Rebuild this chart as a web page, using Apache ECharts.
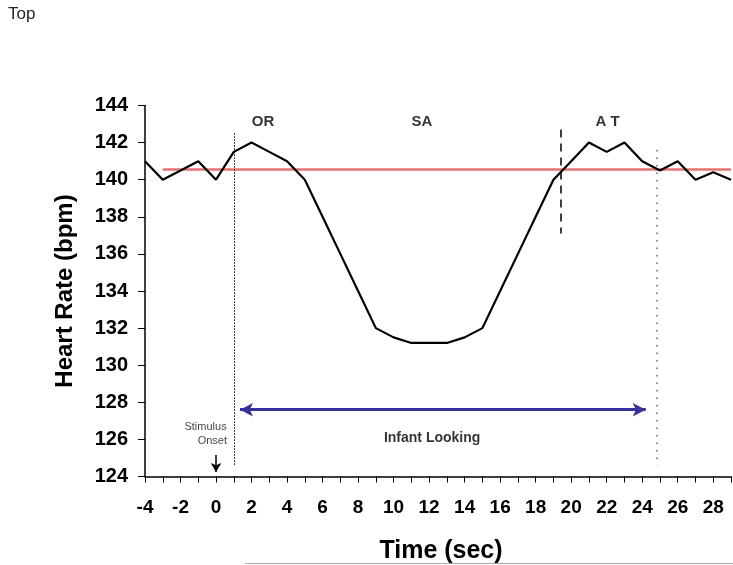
<!DOCTYPE html>
<html>
<head>
<meta charset="utf-8">
<script src="https://cdn.jsdelivr.net/npm/echarts@6/dist/echarts.min.js"></script>
<style>html,body{margin:0;padding:0;background:#fff;}#c{width:733px;height:565px;}</style>
</head>
<body>
<div id="c"></div>
<script>
// ---- data ----
const times = [-4,-3,-2,-1,0,1,2,3,4,5,6,7,8,9,10,11,12,13,14,15,16,17,18,19,20,21,22,23,24,25,26,27,28,29];
const heartRate = [141,140,140.5,141,140,141.5,142,141.5,141,140,138,136,134,132,131.5,131.2,131.2,131.2,131.5,132,134,136,138,140,141,142,141.5,142,141,140.5,141,140,140.4,140];
const baselineHR = 140.55;
const baselineRange = [-3, 29];
const phaseLabels = ['OR', 'SA', 'A T'];
const phaseLabelX = [2.65, 11.6, 22.05];
const phaseLabelY = 143.1;
const onsetLineX = 1;      // dotted
const atLineX = 19.4;      // dashed
const lookEndX = 24.8;     // dotted
const lookingRange = [1.35, 24.2];
const lookingY = 127.6;
const lookingText = 'Infant Looking';
const lookingTextPos = [12.17, 126.07];
const stimulusText = ['Stimulus', 'Onset'];
const stimulusTextX = [-0.59, -0.21];
const stimulusTextY = [126.68, 125.9];
const stimulusArrow = [0, 125.16, 124.24];
const yTicks = {min: 124, max: 144, interval: 2};
const xTicks = {min: -4, max: 29, interval: 1};

const FONT = "'Liberation Sans', Arial, sans-serif";
const chart = echarts.init(document.getElementById('c'), null, {renderer: 'canvas'});

const lineData = times.map((t, i) => [t, heartRate[i]]);

const annotations = [];
phaseLabels.forEach((t, i) => annotations.push({
  value: [phaseLabelX[i], phaseLabelY], name: t,
  label: {fontSize: 15, fontWeight: 'bold', color: '#000'}
}));
annotations.push({value: lookingTextPos, name: lookingText,
  label: {fontSize: 14, fontWeight: 'bold', color: '#000'}});
stimulusText.forEach((t, i) => annotations.push({
  value: [stimulusTextX[i], stimulusTextY[i]], name: t,
  label: {fontSize: 11, fontWeight: 'normal', color: '#111'}
}));

const option = {
  animation: false,
  backgroundColor: '#fff',
  title: {
    text: 'Top', left: 3, top: 1,
    textStyle: {fontFamily: FONT, fontSize: 17, fontWeight: 'normal', color: '#222'}
  },
  grid: {left: 145, right: 2, top: 105.5, bottom: 88.5, containLabel: false, outerBoundsMode: 'none'},
  xAxis: {
    type: 'value', min: xTicks.min, max: xTicks.max, interval: xTicks.interval,
    name: 'Time (sec)', nameLocation: 'middle', nameGap: 62,
    nameTextStyle: {fontFamily: FONT, fontSize: 25, fontWeight: 'bold', color: '#000', padding: [0, 0, 0, 6]},
    axisLine: {show: true, onZero: false, lineStyle: {color: '#000', width: 1.5}},
    axisTick: {show: true, length: 6, lineStyle: {color: '#000', width: 1}},
    axisLabel: {
      margin: 22, fontFamily: FONT, fontSize: 19, fontWeight: 'bold', color: '#000',
      formatter: v => (v % 2 === 0 ? String(v) : '')
    },
    splitLine: {show: false}
  },
  yAxis: {
    type: 'value', min: yTicks.min, max: yTicks.max, interval: yTicks.interval,
    name: 'Heart Rate (bpm)', nameLocation: 'middle', nameGap: 68, nameRotate: 90,
    nameTextStyle: {fontFamily: FONT, fontSize: 24, fontWeight: 'bold', color: '#000'},
    axisLine: {show: true, onZero: false, lineStyle: {color: '#000', width: 1.5}},
    axisTick: {show: true, length: 7, lineStyle: {color: '#000', width: 1}},
    axisLabel: {margin: 17, fontFamily: FONT, fontSize: 20, fontWeight: 'bold', color: '#000'},
    splitLine: {show: false}
  },
  series: [
    {
      type: 'line', data: lineData, symbol: 'none', silent: true,
      lineStyle: {color: '#000', width: 2.2},
      z: 5,
      markLine: {
        silent: true, animation: false,
        symbol: ['none', 'none'],
        label: {show: false},
        emphasis: {disabled: true},
        data: [
          [{coord: [baselineRange[0], baselineHR], lineStyle: {color: '#e57373', width: 2.5, type: 'solid'}},
           {coord: [baselineRange[1], baselineHR]}],
          [{coord: [onsetLineX, 142.5], lineStyle: {color: '#000', width: 1, type: [1.5, 1.5]}},
           {coord: [onsetLineX, 124.6]}],
          [{coord: [atLineX, 142.7], lineStyle: {color: '#000', width: 1.5, type: [8, 6]}},
           {coord: [atLineX, 137.1]}],
          [{coord: [lookEndX, 141.6], lineStyle: {color: '#666', width: 1.5, type: [1.5, 6]}},
           {coord: [lookEndX, 124.6]}],
          [{coord: [lookingRange[0], lookingY], symbol: 'arrow', symbolSize: [10, 13],
            lineStyle: {color: '#333399', width: 3, type: 'solid'}},
           {coord: [lookingRange[1], lookingY], symbol: 'arrow', symbolSize: [10, 13]}],
          [{coord: [stimulusArrow[0], stimulusArrow[1]], symbol: 'none',
            lineStyle: {color: '#000', width: 1.5, type: 'solid'}},
           {coord: [stimulusArrow[0], stimulusArrow[2]], symbol: 'arrow', symbolSize: [8, 9]}]
        ]
      }
    },
    {
      type: 'scatter', data: annotations, symbolSize: 0, silent: true, z: 6,
      itemStyle: {color: 'transparent'},
      label: {
        show: true, position: 'inside', fontFamily: FONT,
        textBorderWidth: 0, textShadowBlur: 0,
        formatter: p => p.name
      }
    }
  ],
  graphic: [
    {type: 'line', shape: {x1: 245, y1: 563.5, x2: 733, y2: 563.5},
     style: {stroke: '#aaa', lineWidth: 1}, silent: true}
  ]
};
chart.setOption(option);
</script>
</body>
</html>
